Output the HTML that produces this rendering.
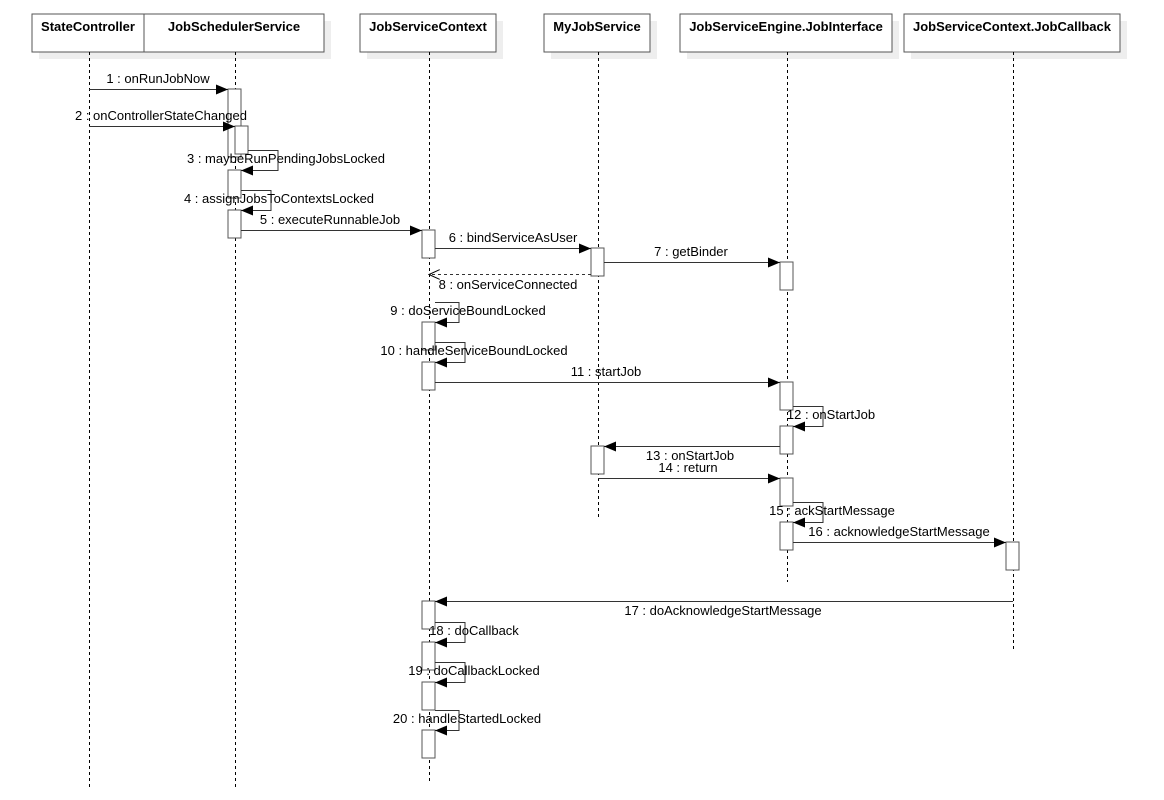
<!DOCTYPE html>
<html><head><style>body{margin:0;background:#fff}svg{display:block}text{font-family:"Liberation Sans",sans-serif;font-size:13px;fill:#000}</style></head><body>
<svg width="1164" height="800" xmlns="http://www.w3.org/2000/svg">
<defs>
<marker id="a" markerWidth="12" markerHeight="10" refX="12" refY="5" orient="auto" markerUnits="userSpaceOnUse"><path d="M0,0 L12,5 L0,10 Z" fill="#000"/></marker>
<marker id="o" markerWidth="12" markerHeight="10" refX="11" refY="5" orient="auto" markerUnits="userSpaceOnUse"><path d="M0,0 L11,5 L0,10" fill="none" stroke="#000"/></marker>
</defs>
<g fill="#eee">
<rect x="39" y="21" width="112" height="38"/><rect x="151" y="21" width="180" height="38"/><rect x="367" y="21" width="136" height="38"/><rect x="551" y="21" width="106" height="38"/><rect x="687" y="21" width="212" height="38"/><rect x="911" y="21" width="216" height="38"/>
</g>
<g fill="#fff" stroke="#555" stroke-width="1">
<rect x="32" y="14" width="112" height="38"/><rect x="144" y="14" width="180" height="38"/><rect x="360" y="14" width="136" height="38"/><rect x="544" y="14" width="106" height="38"/><rect x="680" y="14" width="212" height="38"/><rect x="904" y="14" width="216" height="38"/>
</g>
<g font-weight="bold" text-anchor="middle">
<text x="88" y="31" font-weight="bold">StateController</text><text x="234" y="31" font-weight="bold">JobSchedulerService</text><text x="428" y="31" font-weight="bold">JobServiceContext</text><text x="597" y="31" font-weight="bold">MyJobService</text><text x="786" y="31" font-weight="bold">JobServiceEngine.JobInterface</text><text x="1012" y="31" font-weight="bold">JobServiceContext.JobCallback</text>
</g>
<g stroke="#000" stroke-dasharray="3,3">
<line x1="89.5" y1="52" x2="89.5" y2="790"/><line x1="235.5" y1="52" x2="235.5" y2="790"/><line x1="429.5" y1="52" x2="429.5" y2="782"/><line x1="598.5" y1="52" x2="598.5" y2="518"/><line x1="787.5" y1="52" x2="787.5" y2="582"/><line x1="1013.5" y1="52" x2="1013.5" y2="650"/>
</g>
<g fill="#fff" stroke="#555">
<rect x="228" y="89" width="13" height="68"/><rect x="235" y="126" width="13" height="28"/><rect x="228" y="170" width="13" height="28"/><rect x="228" y="210" width="13" height="28"/>
<rect x="422" y="230" width="13" height="28"/><rect x="422" y="322" width="13" height="28"/><rect x="422" y="362" width="13" height="28"/><rect x="422" y="601" width="13" height="28"/><rect x="422" y="642" width="13" height="28"/><rect x="422" y="682" width="13" height="28"/><rect x="422" y="730" width="13" height="28"/>
<rect x="591" y="248" width="13" height="28"/><rect x="591" y="446" width="13" height="28"/>
<rect x="780" y="262" width="13" height="28"/><rect x="780" y="382" width="13" height="28"/><rect x="780" y="426" width="13" height="28"/><rect x="780" y="478" width="13" height="28"/><rect x="780" y="522" width="13" height="28"/>
<rect x="1006" y="542" width="13" height="28"/>
</g>
<g stroke="#333" fill="none" marker-end="url(#a)">
<line x1="89" y1="89.5" x2="228" y2="89.5"/>
<line x1="89" y1="126.5" x2="235" y2="126.5"/>
<polyline points="248,150.5 278,150.5 278,170.5 241,170.5"/>
<polyline points="241,190.5 271,190.5 271,210.5 241,210.5"/>
<line x1="241" y1="230.5" x2="422" y2="230.5"/>
<line x1="435" y1="248.5" x2="591" y2="248.5"/>
<line x1="604" y1="262.5" x2="780" y2="262.5"/>
<polyline points="435,302.5 459,302.5 459,322.5 435,322.5"/>
<polyline points="435,342.5 465,342.5 465,362.5 435,362.5"/>
<line x1="435" y1="382.5" x2="780" y2="382.5"/>
<polyline points="793,406.5 823,406.5 823,426.5 793,426.5"/>
<line x1="780" y1="446.5" x2="604" y2="446.5"/>
<line x1="598" y1="478.5" x2="780" y2="478.5"/>
<polyline points="793,502.5 823,502.5 823,522.5 793,522.5"/>
<line x1="793" y1="542.5" x2="1006" y2="542.5"/>
<line x1="1013" y1="601.5" x2="435" y2="601.5"/>
<polyline points="435,622.5 465,622.5 465,642.5 435,642.5"/>
<polyline points="435,662.5 465,662.5 465,682.5 435,682.5"/>
<polyline points="435,710.5 459,710.5 459,730.5 435,730.5"/>
</g>
<line x1="591" y1="274.5" x2="429" y2="274.5" stroke="#333" stroke-dasharray="3,3" marker-end="url(#o)"/>
<g text-anchor="middle">
<text x="158" y="83">1 : onRunJobNow</text>
<text x="161" y="120">2 : onControllerStateChanged</text>
<text x="286" y="163">3 : maybeRunPendingJobsLocked</text>
<text x="279" y="203">4 : assignJobsToContextsLocked</text>
<text x="330" y="224">5 : executeRunnableJob</text>
<text x="513" y="242">6 : bindServiceAsUser</text>
<text x="691" y="256">7 : getBinder</text>
<text x="508" y="289">8 : onServiceConnected</text>
<text x="468" y="315">9 : doServiceBoundLocked</text>
<text x="474" y="355">10 : handleServiceBoundLocked</text>
<text x="606" y="376">11 : startJob</text>
<text x="831" y="419">12 : onStartJob</text>
<text x="690" y="460">13 : onStartJob</text>
<text x="688" y="472">14 : return</text>
<text x="832" y="515">15 : ackStartMessage</text>
<text x="899" y="536">16 : acknowledgeStartMessage</text>
<text x="723" y="615">17 : doAcknowledgeStartMessage</text>
<text x="474" y="635">18 : doCallback</text>
<text x="474" y="675">19 : doCallbackLocked</text>
<text x="467" y="723">20 : handleStartedLocked</text>
</g>
</svg>
</body></html>
